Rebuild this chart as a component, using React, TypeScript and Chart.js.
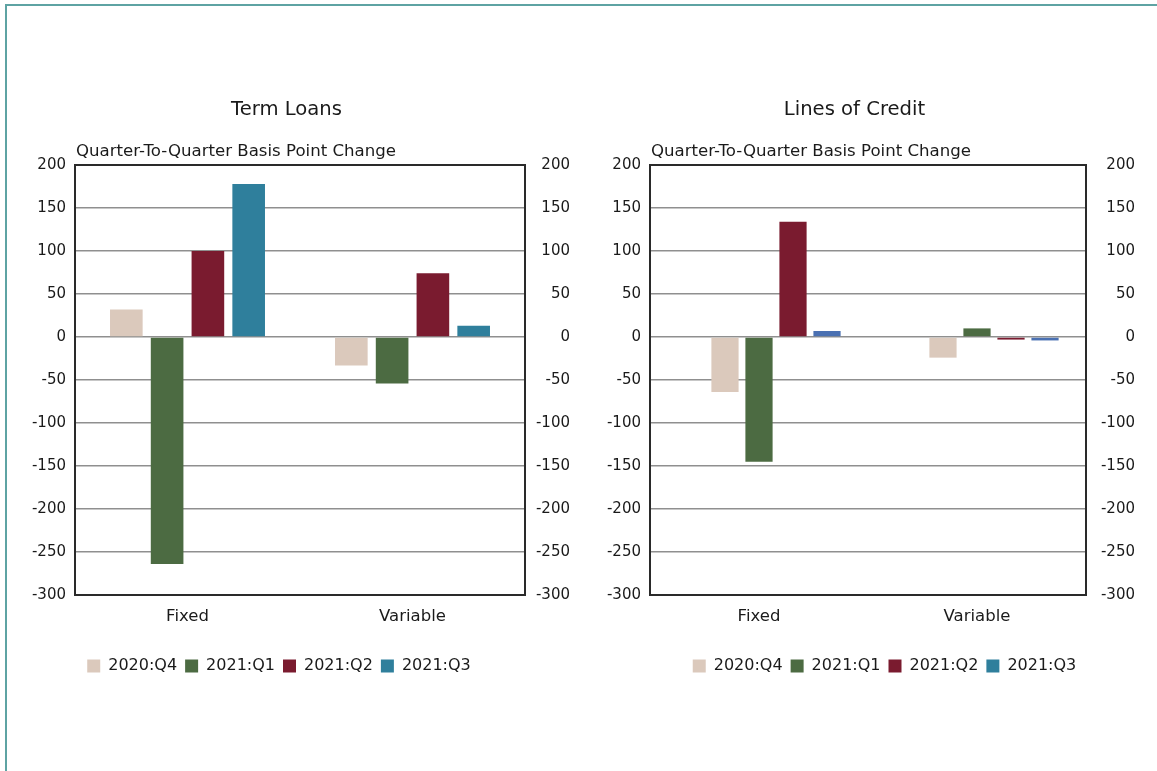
import React, { useEffect, useRef } from 'react';
import { Chart, registerables } from 'chart.js';

Chart.register(...registerables);

// ---------------- data ----------------
const categories = ['Fixed', 'Variable'];
const seriesLabels = ['2020:Q4', '2021:Q1', '2021:Q2', '2021:Q3'];

const termLoansQ4 = [32, -33];
const termLoansQ1 = [-264, -54];
const termLoansQ2 = [100, 74];
const termLoansQ3 = [178, 13];

const creditSpacer: (number | null)[] = [null, null];
const creditQ4 = [-64, -24];
const creditQ1 = [-145, 10];
const creditQ2 = [134, -3];
const creditQ3 = [7, -4];

const yMin = -300;
const yMax = 200;
const yStep = 50;

const termTitle = 'Term Loans';
const creditTitle = 'Lines of Credit';
const axisCaption = 'Quarter-To-Quarter Basis Point Change';

// ---------------- style ----------------
const FONT = '"DejaVu Sans", Verdana, sans-serif';
const TEXT = '#1a1a1a';
const seriesColors = ['#dbc9bc', '#4c6b42', '#7a1b2f', '#2f7f9c'];
const creditBarColors = ['#dbc9bc', '#4c6b42', '#7a1b2f', '#4a70b2'];

Chart.defaults.font.family = FONT;
Chart.defaults.color = TEXT;

const panelText = {
  id: 'panelText',
  afterDraw(chart: any, _args: any, opts: any) {
    const { ctx, chartArea: a } = chart;
    ctx.save();
    ctx.strokeStyle = '#2a2a2a';
    ctx.lineWidth = 2;
    ctx.strokeRect(a.left, a.top, a.right - a.left, a.bottom - a.top);
    ctx.fillStyle = TEXT;
    ctx.font = `19.6px ${FONT}`;
    ctx.textAlign = 'center';
    ctx.textBaseline = 'middle';
    ctx.fillText(opts.title, (a.left + a.right) / 2 + opts.titleDx, a.top - 55);
    ctx.font = `16.6px ${FONT}`;
    ctx.textAlign = 'left';
    ctx.fillText(opts.caption, a.left + 1, a.top - 13);
    ctx.restore();
  },
};

type PanelProps = {
  left: number;
  width: number;
  leftAxisW: number;
  rightAxisW: number;
  title: string;
  datasets: any[];
  legendColors: (string | null)[];
  categoryPercentage: number;
};

function Panel(p: PanelProps) {
  const ref = useRef<HTMLCanvasElement | null>(null);
  useEffect(() => {
    if (!ref.current) return;
    const chart = new Chart(ref.current, {
      type: 'bar',
      data: { labels: categories, datasets: p.datasets },
      plugins: [panelText as any],
      options: {
        animation: false,
        responsive: false,
        layout: { padding: { top: 165, bottom: 36, left: 0, right: 0 } },
        datasets: {
          bar: { categoryPercentage: p.categoryPercentage, barPercentage: 0.8 },
        },
        scales: {
          x: {
            grid: { display: false, drawTicks: false },
            border: { display: false },
            ticks: { padding: 12, color: TEXT, font: { size: 16.5 } },
            afterFit: (s: any) => {
              s.height = 55;
            },
          },
          y: {
            position: 'left',
            min: yMin,
            max: yMax,
            ticks: { stepSize: yStep, padding: 9, color: TEXT, font: { size: 15 } },
            grid: { color: '#8f8f8f', lineWidth: 1.5, drawTicks: false },
            border: { display: false },
            afterFit: (s: any) => {
              s.width = p.leftAxisW;
            },
          },
          y2: {
            position: 'right',
            min: yMin,
            max: yMax,
            ticks: {
              stepSize: yStep,
              padding: p.rightAxisW - 34,
              crossAlign: 'far',
              color: TEXT,
              font: { size: 15 },
            },
            grid: { display: false, drawTicks: false },
            border: { display: false },
            afterFit: (s: any) => {
              s.width = p.rightAxisW;
            },
          },
        },
        plugins: {
          title: { display: false },
          tooltip: { enabled: false },
          legend: {
            position: 'bottom',
            labels: {
              boxWidth: 13,
              boxHeight: 13,
              padding: 8,
              color: TEXT,
              font: { size: 16 },
              generateLabels: (c: any) =>
                c.data.datasets.map((d: any, i: number) => ({
                  text: d.label,
                  fillStyle: p.legendColors[i] ?? 'rgba(0,0,0,0)',
                  strokeStyle: 'rgba(0,0,0,0)',
                  lineWidth: 0,
                  hidden: false,
                  datasetIndex: i,
                  fontColor: TEXT,
                })),
            },
          },
          panelText: { title: p.title, caption: axisCaption, titleDx: -13.5 },
        } as any,
      } as any,
    });
    return () => chart.destroy();
  }, []);
  return (
    <canvas
      ref={ref}
      width={p.width}
      height={720}
      style={{ position: 'absolute', left: p.left, top: 0, width: p.width, height: 720 }}
    />
  );
}

const termDatasets = [termLoansQ4, termLoansQ1, termLoansQ2, termLoansQ3].map((d, i) => ({
  label: seriesLabels[i],
  data: d,
  backgroundColor: seriesColors[i],
  borderWidth: 0,
}));

const creditDatasets = [
  { label: '', data: creditSpacer, backgroundColor: 'rgba(0,0,0,0)', borderWidth: 0 },
  ...[creditQ4, creditQ1, creditQ2, creditQ3].map((d, i) => ({
    label: seriesLabels[i],
    data: d,
    backgroundColor: creditBarColors[i],
    borderWidth: 0,
  })),
];

export default function App() {
  return (
    <div
      style={{
        position: 'absolute',
        left: 0,
        top: 0,
        width: 1157,
        height: 771,
        overflow: 'hidden',
        background: '#ffffff',
      }}
    >
      <div
        style={{
          position: 'absolute',
          left: 5,
          top: 4,
          width: 1200,
          height: 900,
          borderTop: '2px solid #5ea3a3',
          borderLeft: '2px solid #5ea3a3',
        }}
      />
      <Panel
        left={-12}
        width={582}
        leftAxisW={87}
        rightAxisW={45}
        title={termTitle}
        datasets={termDatasets}
        legendColors={seriesColors}
        categoryPercentage={0.725}
      />
      <Panel
        left={605}
        width={530}
        leftAxisW={45}
        rightAxisW={49}
        title={creditTitle}
        datasets={creditDatasets}
        legendColors={[null, ...seriesColors]}
        categoryPercentage={0.78}
      />
    </div>
  );
}
